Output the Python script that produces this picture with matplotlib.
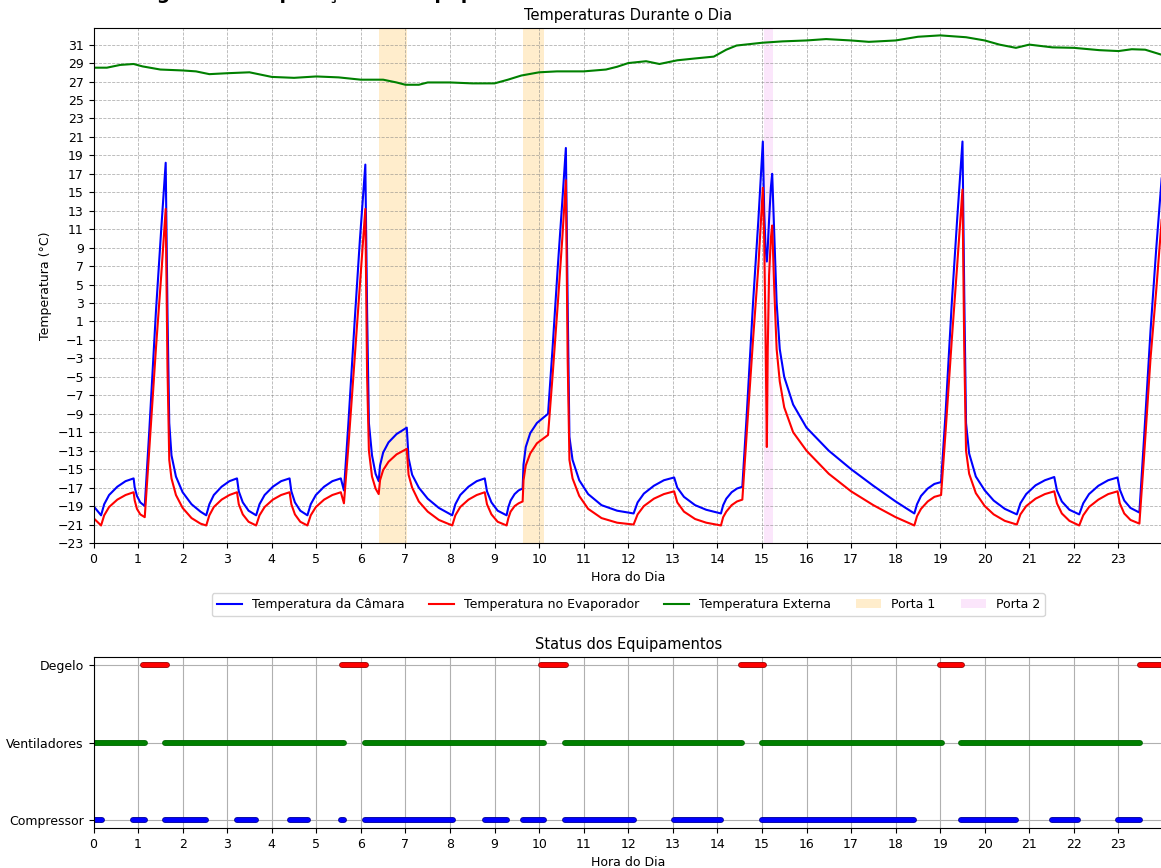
import numpy as np
import matplotlib
matplotlib.use("Agg")
import matplotlib.pyplot as plt
import matplotlib.patheffects as pe

plt.rcParams['font.size'] = 9

# leituras da camara (hora, camara, evaporador)
hora_temp = [0.00, 0.17, 0.24, 0.35, 0.535, 0.72, 0.90,
             0.925, 0.975, 1.05, 1.15,
             1.25, 1.40, 1.52, 1.62,
             1.66, 1.70, 1.75, 1.85, 2.00, 2.20, 2.40, 2.53,
             2.60, 2.70, 2.875, 3.05, 3.22,
             3.26, 3.35, 3.48, 3.65,
             3.725, 3.84, 4.025, 4.21, 4.40,
             4.44, 4.52, 4.64, 4.80,
             4.875, 4.99, 5.175, 5.36, 5.55,
             5.62,
             5.72, 5.86, 5.98, 6.10,
             6.14, 6.18, 6.25, 6.33, 6.40,
             6.43, 6.50, 6.62, 6.80, 7.03,
             7.07, 7.15, 7.30, 7.50, 7.75, 8.05,
             8.12, 8.23, 8.415, 8.60, 8.78,
             8.83, 8.93, 9.07, 9.27,
             9.31, 9.36, 9.45, 9.54, 9.63,
             9.65, 9.70, 9.80, 9.95, 10.20,
             10.30, 10.42, 10.52, 10.60,
             10.64, 10.68, 10.75, 10.90, 11.10, 11.40, 11.75, 12.12,
             12.21, 12.35, 12.575, 12.80, 13.03,
             13.10, 13.25, 13.50, 13.75, 14.08,
             14.13, 14.20, 14.32, 14.44, 14.56,
             14.66, 14.80, 14.92, 15.02,
             15.05, 15.08, 15.11, 15.13, 15.16, 15.20, 15.23,
             15.28, 15.33, 15.40, 15.50, 15.70, 16.0, 16.5, 17.0, 17.5, 18.0, 18.42,
             18.48, 18.57, 18.72, 18.87, 19.02,
             19.12, 19.26, 19.38, 19.50,
             19.54, 19.58, 19.65, 19.80, 20.00, 20.20, 20.45, 20.72,
             20.80, 20.93, 21.14, 21.35, 21.56,
             21.62, 21.73, 21.90, 22.12,
             22.21, 22.34, 22.55, 22.77, 22.98,
             23.03, 23.13, 23.27, 23.47,
             23.57, 23.72, 23.85, 23.97]

temp_camara = [-19.0, -20.0, -18.8, -17.8, -16.9, -16.3, -16.0,
               -17.0, -17.9, -18.6, -19.0,
               -11, 2, 11, 18.2,
               2, -10, -13.5, -15.8, -17.5, -18.8, -19.6, -20.0,
               -18.8, -17.8, -16.9, -16.3, -16.0,
               -17.4, -18.6, -19.5, -20.0,
               -18.8, -17.8, -16.9, -16.3, -16.0,
               -17.4, -18.6, -19.5, -20.0,
               -18.8, -17.8, -16.9, -16.3, -16.0,
               -17.3,
               -10, 1, 10, 18.0,
               2, -10, -13.5, -15.5, -16.3,
               -14.6, -13.2, -12.1, -11.2, -10.5,
               -13.8, -15.6, -17.0, -18.2, -19.2, -20.0,
               -18.8, -17.8, -16.9, -16.3, -16.0,
               -17.4, -18.6, -19.5, -20.0,
               -19.1, -18.4, -17.7, -17.3, -17.1,
               -14.5, -12.6, -11.1, -10.0, -9.0,
               -2, 7, 14, 19.8,
               3, -11.5, -14.0, -16.2, -17.7, -18.9, -19.5, -19.8,
               -18.6, -17.65, -16.8, -16.2, -15.9,
               -17.0, -18.0, -18.9, -19.4, -19.8,
               -18.9, -18.2, -17.5, -17.1, -16.9,
               -9, 3, 12, 20.5,
               13, 9, 7.5, 9, 12, 15.5, 17.0,
               10, 3, -2.0, -5.0, -8.0, -10.5, -13.0, -15.0, -16.8, -18.5, -19.8,
               -18.8, -17.9, -17.1, -16.6, -16.4,
               -9, 3, 12, 20.5,
               4, -10, -13.3, -15.8, -17.3, -18.4, -19.3, -19.9,
               -18.7, -17.7, -16.75, -16.2, -15.85,
               -17.3, -18.5, -19.4, -19.9,
               -18.7, -17.7, -16.8, -16.2, -15.9,
               -17.2, -18.4, -19.2, -19.7,
               -12, 0, 9, 16.5]

temp_evaporador = [-20.3, -21.1, -20.0, -19.1, -18.3, -17.8, -17.5,
                   -18.4, -19.3, -19.9, -20.2,
                   -13, -2, 6, 13.2,
                   -4, -14, -16, -17.8, -19.2, -20.3, -20.9, -21.1,
                   -20.0, -19.1, -18.3, -17.8, -17.5,
                   -18.8, -19.9, -20.7, -21.1,
                   -20.0, -19.1, -18.3, -17.8, -17.5,
                   -18.8, -19.9, -20.7, -21.1,
                   -20.0, -19.1, -18.3, -17.8, -17.5,
                   -18.7,
                   -12.5, -3, 5, 13.2,
                   -5, -13, -15.8, -17.1, -17.7,
                   -16.2, -15.1, -14.2, -13.4, -12.8,
                   -15.6, -17.0, -18.5, -19.6, -20.5, -21.1,
                   -20.0, -19.1, -18.3, -17.8, -17.5,
                   -18.8, -19.9, -20.7, -21.1,
                   -20.3, -19.6, -19.0, -18.7, -18.5,
                   -16.2, -14.6, -13.3, -12.2, -11.3,
                   -5, 3, 10, 16.3,
                   -3, -14.0, -16.0, -17.9, -19.3, -20.3, -20.8, -21.0,
                   -19.9, -19.0, -18.2, -17.7, -17.4,
                   -18.6, -19.6, -20.4, -20.8, -21.1,
                   -20.2, -19.6, -18.9, -18.5, -18.3,
                   -11, -1, 7, 15.5,
                   10, 0, -12.6, -2, 6, 10, 11.4,
                   4, -2, -5.5, -8.3, -11.0, -13.0, -15.5, -17.4, -18.9, -20.2, -21.1,
                   -20.1, -19.3, -18.5, -18.0, -17.8,
                   -11, -1, 7, 15.3,
                   -2, -13, -15.5, -17.6, -19.0, -19.9, -20.6, -21.0,
                   -19.9, -19.0, -18.2, -17.7, -17.4,
                   -18.7, -19.8, -20.6, -21.1,
                   -20.0, -19.1, -18.3, -17.7, -17.4,
                   -18.7, -19.8, -20.5, -20.9,
                   -14, -3, 4.5, 12]

hora_ext = [0, 0.3, 0.6, 0.9, 1.1, 1.5, 2.0, 2.3, 2.6, 3.0, 3.5, 4.0, 4.5, 5.0,
            5.5, 6.0, 6.5, 6.8, 7.0, 7.3, 7.5, 8.0, 8.5, 9.0, 9.3, 9.6, 10.0,
            10.4, 10.7, 11.0, 11.5, 11.75, 12.0, 12.4, 12.7, 13.1, 13.5, 13.92,
            14.2, 14.43, 15.0, 15.46, 16.0, 16.44, 17.0, 17.4, 18.0, 18.5, 19.0,
            19.58, 20.0, 20.33, 20.7, 21.0, 21.52, 22.0, 22.57, 23.0, 23.3, 23.6,
            23.97]
temp_externa = [28.5, 28.5, 28.8, 28.9, 28.64, 28.3, 28.2, 28.1, 27.8, 27.9,
                28.0, 27.5, 27.4, 27.55, 27.45, 27.2, 27.2, 26.9, 26.65, 26.65,
                26.9, 26.9, 26.8, 26.8, 27.2, 27.65, 28.0, 28.1, 28.1, 28.1,
                28.3, 28.6, 29.0, 29.2, 28.9, 29.3, 29.5, 29.7, 30.45, 30.9,
                31.2, 31.35, 31.45, 31.6, 31.45, 31.3, 31.45, 31.85, 32.0, 31.8,
                31.45, 31.0, 30.65, 31.0, 30.7, 30.65, 30.4, 30.3, 30.5, 30.45,
                29.9]

# aberturas de porta (inicio, fim)
porta1 = [(6.40, 7.03), (9.63, 10.12)]
porta2 = [(15.05, 15.24)]

# periodos ligados de cada equipamento
compressor = [(0.0, 0.18), (0.88, 1.15), (1.6, 2.53), (3.22, 3.65), (4.4, 4.81),
              (5.55, 5.62), (6.1, 8.07), (8.78, 9.27), (9.63, 10.1), (10.58, 12.12),
              (13.03, 14.08), (15.0, 18.41), (19.47, 20.7), (21.5, 22.1), (23.0, 23.48)]
ventiladores = [(0.0, 1.15), (1.6, 5.62), (6.1, 10.1), (10.58, 14.55),
                (15.0, 19.05), (19.47, 23.48)]
degelo = [(1.1, 1.65), (5.58, 6.12), (10.05, 10.6), (14.53, 15.05),
          (19.0, 19.5), (23.48, 24.0)]

fig = plt.figure(figsize=(11.61, 8.68), dpi=100)
# titulo geral (sai cortado no topo, como no original)
fig.text(0.105, 1 + 1.0 / 868, "Diagrama de Operação dos Equipamentos", fontsize=13.5,
         fontweight='bold', ha='left', va='baseline')

ax = fig.add_axes([93.5 / 1161, 1 - 543 / 868, (1163 - 93.5) / 1161, (543 - 28) / 868])
ax.plot(hora_temp, temp_camara, color='blue', lw=1.5, label='Temperatura da Câmara')
ax.plot(hora_temp, temp_evaporador, color='red', lw=1.5, label='Temperatura no Evaporador')
ax.plot(hora_ext, temp_externa, color='green', lw=1.5, label='Temperatura Externa')
for i, (a, b) in enumerate(porta1):
    ax.axvspan(a, b, color='orange', alpha=0.2, lw=0, label='Porta 1' if i == 0 else None)
for i, (a, b) in enumerate(porta2):
    ax.axvspan(a, b, color='violet', alpha=0.2, lw=0, label='Porta 2' if i == 0 else None)

ax.set_xlim(0, 24)
ax.set_ylim(-23, 32.8)
ax.set_xticks(range(24))
ax.set_yticks(np.arange(-23, 32, 2))
ax.grid(True, linestyle='--', color='gray', alpha=0.6, lw=0.6)
ax.set_title("Temperaturas Durante o Dia", fontsize=10.5)
ax.set_xlabel("Hora do Dia")
ax.set_ylabel("Temperatura (°C)")
ax.legend(loc='upper center', bbox_to_anchor=(0.5, -0.085), ncol=5, fontsize=9)

ax2 = fig.add_axes([93.5 / 1161, 1 - 828 / 868, (1163 - 93.5) / 1161, (828 - 657) / 868])
estados = [(compressor, 0, 'blue', 'darkblue'),
           (ventiladores, 1, 'green', 'darkgreen'),
           (degelo, 2, 'red', 'darkred')]
for periodos, nivel, cor, borda in estados:
    for a, b in periodos:
        ax2.plot([a, b], [nivel, nivel], color=cor, lw=3.2, solid_capstyle='round',
                 path_effects=[pe.Stroke(linewidth=4.2, foreground=borda), pe.Normal()])
ax2.set_xlim(0, 24)
ax2.set_ylim(-0.1, 2.1)
ax2.set_xticks(range(24))
ax2.set_yticks([0, 1, 2])
ax2.set_yticklabels(['Compressor', 'Ventiladores', 'Degelo'])
ax2.grid(True)
ax2.set_axisbelow(True)
ax2.set_title("Status dos Equipamentos", fontsize=10.5)
ax2.set_xlabel("Hora do Dia")

fig.savefig("out.png", dpi=100)
